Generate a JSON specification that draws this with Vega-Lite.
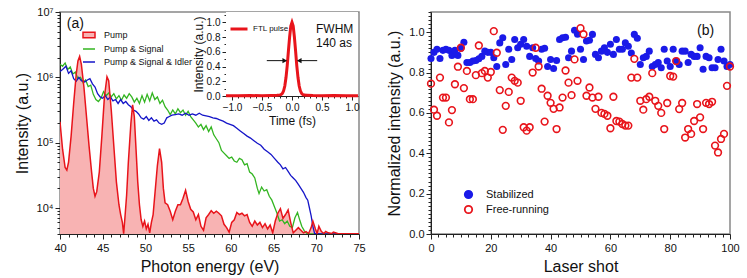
{
  "$schema": "https://vega.github.io/schema/vega-lite/v6.json",
  "background": "white",
  "padding": {"left": 13, "top": 5, "right": 8, "bottom": 3},
  "config": {
    "font": "Liberation Sans",
    "view": {"stroke": "#888888", "strokeWidth": 1.5},
    "axis": {"labelFont": "Liberation Sans", "titleFont": "Liberation Sans", "labelFontSize": 11, "titleFontSize": 16, "titleFontWeight": "normal", "labelColor": "#111111", "titleColor": "#111111", "domainColor": "#222222", "tickColor": "#222222", "grid": false, "labelFlush": false, "labelOverlap": false, "labelPadding": 2, "tickCount": 1000},
    "legend": {"labelFont": "Liberation Sans", "labelColor": "#111111"}
  },
  "datasets": {
    "pump": [
      {"E":40,"I":208900},{"E":40.3,"I":79430},{"E":40.6,"I":41690},{"E":40.8,"I":38020},{"E":41,"I":50120},{"E":41.3,"I":125900},{"E":41.6,"I":398100},{"E":41.9,"I":1122000},{"E":42.1,"I":1778000},{"E":42.3,"I":2089000},{"E":42.5,"I":1585000},{"E":42.8,"I":707900},{"E":43.1,"I":251200},{"E":43.4,"I":89130},{"E":43.7,"I":35480},{"E":43.9,"I":19950},{"E":44.1,"I":15140},{"E":44.3,"I":17780},{"E":44.6,"I":35480},{"E":44.9,"I":125900},{"E":45.2,"I":501200},{"E":45.5,"I":1023000},{"E":45.7,"I":891300},{"E":46,"I":316200},{"E":46.3,"I":89130},{"E":46.6,"I":25120},{"E":46.9,"I":11220},{"E":47.1,"I":7943},{"E":47.3,"I":6026},{"E":47.45,"I":4030},{"E":47.6,"I":7079},{"E":47.8,"I":15850},{"E":48,"I":50120},{"E":48.3,"I":199500},{"E":48.5,"I":380200},{"E":48.7,"I":251200},{"E":48.9,"I":79430},{"E":49.1,"I":25120},{"E":49.3,"I":11220},{"E":49.5,"I":6607},{"E":49.7,"I":5248},{"E":49.9,"I":6310},{"E":50.1,"I":4786},{"E":50.3,"I":5623},{"E":50.5,"I":4169},{"E":50.7,"I":6026},{"E":50.9,"I":7943},{"E":51.1,"I":15850},{"E":51.4,"I":44670},{"E":51.65,"I":81280},{"E":51.9,"I":50120},{"E":52.1,"I":19950},{"E":52.3,"I":12020},{"E":52.6,"I":11220},{"E":52.9,"I":8913},{"E":53.2,"I":6607},{"E":53.5,"I":8913},{"E":53.8,"I":11220},{"E":54.1,"I":11220},{"E":54.4,"I":14130},{"E":54.7,"I":18620},{"E":55,"I":12590},{"E":55.3,"I":9550},{"E":55.6,"I":8710},{"E":55.9,"I":6607},{"E":56.2,"I":7943},{"E":56.5,"I":5248},{"E":56.8,"I":4571},{"E":57.1,"I":7079},{"E":57.4,"I":7943},{"E":57.7,"I":9120},{"E":58,"I":8318},{"E":58.3,"I":8913},{"E":58.6,"I":8318},{"E":58.9,"I":7586},{"E":59.2,"I":5623},{"E":59.5,"I":5012},{"E":59.8,"I":4266},{"E":60.1,"I":6026},{"E":60.4,"I":6607},{"E":60.7,"I":8511},{"E":61,"I":7943},{"E":61.3,"I":8318},{"E":61.6,"I":7586},{"E":61.9,"I":7943},{"E":62.2,"I":6026},{"E":62.5,"I":5248},{"E":62.8,"I":6310},{"E":63.1,"I":5495},{"E":63.4,"I":6026},{"E":63.7,"I":5012},{"E":64,"I":5754},{"E":64.3,"I":4786},{"E":64.6,"I":5495},{"E":64.9,"I":4169},{"E":65.2,"I":6310},{"E":65.5,"I":8318},{"E":65.8,"I":9772},{"E":66.1,"I":6918},{"E":66.4,"I":7943},{"E":66.7,"I":9333},{"E":67,"I":6026},{"E":67.3,"I":4169},{"E":67.6,"I":4571},{"E":67.9,"I":5012},{"E":68.2,"I":4571},{"E":68.5,"I":4169},{"E":68.8,"I":4365},{"E":69.1,"I":4074},{"E":69.4,"I":5012},{"E":69.6,"I":6310},{"E":69.9,"I":4786},{"E":70.1,"I":4074},{"E":70.3,"I":5248},{"E":70.6,"I":4365},{"E":70.9,"I":4074},{"E":71.1,"I":4365},{"E":71.4,"I":4169},{"E":71.8,"I":4074},{"E":72,"I":4266},{"E":72.5,"I":4074},{"E":73,"I":4030},{"E":74,"I":4030},{"E":75,"I":4030}
    ],
    "ps": [
      {"E":40,"I":1585000},{"E":40.3,"I":1479000},{"E":40.6,"I":1660000},{"E":40.9,"I":1318000},{"E":41.2,"I":1445000},{"E":41.5,"I":1122000},{"E":41.8,"I":1202000},{"E":42.1,"I":955000},{"E":42.4,"I":1000000},{"E":42.7,"I":831800},{"E":43,"I":912000},{"E":43.3,"I":724400},{"E":43.6,"I":758600},{"E":43.9,"I":549500},{"E":44.2,"I":457100},{"E":44.5,"I":426600},{"E":44.8,"I":478600},{"E":45.1,"I":602600},{"E":45.4,"I":524800},{"E":45.7,"I":575400},{"E":46,"I":501200},{"E":46.3,"I":562300},{"E":46.6,"I":467700},{"E":46.9,"I":524800},{"E":47.2,"I":446700},{"E":47.5,"I":537000},{"E":47.8,"I":478600},{"E":48.1,"I":562300},{"E":48.4,"I":501200},{"E":48.7,"I":416900},{"E":49,"I":478600},{"E":49.3,"I":398100},{"E":49.6,"I":524800},{"E":49.9,"I":416900},{"E":50.2,"I":549500},{"E":50.5,"I":436500},{"E":50.8,"I":575400},{"E":51.1,"I":457100},{"E":51.4,"I":501200},{"E":51.7,"I":398100},{"E":52,"I":446700},{"E":52.3,"I":354800},{"E":52.6,"I":316200},{"E":52.9,"I":269200},{"E":53.2,"I":316200},{"E":53.5,"I":275400},{"E":53.8,"I":331100},{"E":54.1,"I":288400},{"E":54.4,"I":316200},{"E":54.7,"I":263000},{"E":55,"I":302000},{"E":55.3,"I":251200},{"E":55.6,"I":223900},{"E":55.9,"I":199500},{"E":56.2,"I":173800},{"E":56.5,"I":190500},{"E":56.8,"I":158500},{"E":57.1,"I":182000},{"E":57.4,"I":147900},{"E":57.7,"I":173800},{"E":58,"I":131800},{"E":58.3,"I":114800},{"E":58.6,"I":100000},{"E":58.9,"I":75860},{"E":59.2,"I":69180},{"E":59.5,"I":63100},{"E":59.8,"I":57540},{"E":60.1,"I":60260},{"E":60.4,"I":52480},{"E":60.7,"I":50120},{"E":61,"I":57540},{"E":61.3,"I":54950},{"E":61.6,"I":45710},{"E":61.9,"I":47860},{"E":62.2,"I":35480},{"E":62.5,"I":33110},{"E":62.8,"I":28840},{"E":63.1,"I":19950},{"E":63.3,"I":16600},{"E":63.6,"I":20890},{"E":63.9,"I":18200},{"E":64.2,"I":19050},{"E":64.5,"I":15140},{"E":64.8,"I":13180},{"E":65.1,"I":10470},{"E":65.4,"I":8318},{"E":65.7,"I":6310},{"E":66,"I":6607},{"E":66.3,"I":5754},{"E":66.6,"I":6310},{"E":66.9,"I":5248},{"E":67.2,"I":5012},{"E":67.5,"I":7079},{"E":67.8,"I":8511},{"E":68.1,"I":6310},{"E":68.3,"I":5248},{"E":68.6,"I":4467},{"E":68.9,"I":4074},{"E":69.2,"I":4030},{"E":75,"I":4030}
    ],
    "psi": [
      {"E":40,"I":1230000},{"E":40.3,"I":1318000},{"E":40.7,"I":1479000},{"E":41,"I":1148000},{"E":41.3,"I":1259000},{"E":41.6,"I":955000},{"E":41.9,"I":871000},{"E":42.2,"I":1000000},{"E":42.5,"I":891300},{"E":42.9,"I":851100},{"E":43.2,"I":912000},{"E":43.5,"I":955000},{"E":43.8,"I":794300},{"E":44.1,"I":707900},{"E":44.4,"I":562300},{"E":44.7,"I":501200},{"E":45,"I":478600},{"E":45.3,"I":524800},{"E":45.6,"I":457100},{"E":45.9,"I":501200},{"E":46.2,"I":436500},{"E":46.5,"I":457100},{"E":46.8,"I":398100},{"E":47.1,"I":457100},{"E":47.4,"I":398100},{"E":47.7,"I":426600},{"E":48,"I":380200},{"E":48.3,"I":354800},{"E":48.6,"I":316200},{"E":48.9,"I":302000},{"E":49.2,"I":275400},{"E":49.5,"I":239900},{"E":49.8,"I":229100},{"E":50.1,"I":251200},{"E":50.4,"I":218800},{"E":50.7,"I":239900},{"E":51,"I":213800},{"E":51.3,"I":223900},{"E":51.6,"I":199500},{"E":51.9,"I":190500},{"E":52.2,"I":199500},{"E":52.5,"I":239900},{"E":52.8,"I":251200},{"E":53.1,"I":263000},{"E":53.5,"I":269200},{"E":53.9,"I":275400},{"E":54.3,"I":263000},{"E":54.7,"I":281800},{"E":55.1,"I":263000},{"E":55.5,"I":275400},{"E":55.9,"I":263000},{"E":56.3,"I":281800},{"E":56.7,"I":263000},{"E":57.1,"I":257000},{"E":57.5,"I":251200},{"E":57.9,"I":239900},{"E":58.3,"I":234400},{"E":58.7,"I":223900},{"E":59.1,"I":213800},{"E":59.5,"I":199500},{"E":59.9,"I":190500},{"E":60.3,"I":182000},{"E":60.7,"I":166000},{"E":61.1,"I":151400},{"E":61.5,"I":138000},{"E":61.9,"I":125900},{"E":62.3,"I":117500},{"E":62.7,"I":107200},{"E":63.1,"I":97720},{"E":63.5,"I":91200},{"E":63.9,"I":79430},{"E":64.3,"I":72440},{"E":64.7,"I":66070},{"E":65.1,"I":57540},{"E":65.5,"I":50120},{"E":65.8,"I":45710},{"E":66.1,"I":39810},{"E":66.4,"I":41690},{"E":66.7,"I":36310},{"E":67,"I":31620},{"E":67.3,"I":28840},{"E":67.6,"I":26300},{"E":67.9,"I":22910},{"E":68.2,"I":19950},{"E":68.5,"I":17380},{"E":68.8,"I":14450},{"E":69,"I":13180},{"E":69.2,"I":10000},{"E":69.4,"I":7586},{"E":69.6,"I":5248},{"E":69.8,"I":4074},{"E":70.5,"I":4030},{"E":75,"I":4030}
    ],
    "pulse": [
      {"t":-1.1,"v":0.005},{"t":-0.9,"v":0.003},{"t":-0.7,"v":0.006},{"t":-0.5,"v":0.004},{"t":-0.35,"v":0.008},{"t":-0.25,"v":0.01},{"t":-0.2,"v":0.015},{"t":-0.18,"v":0.02},{"t":-0.16,"v":0.035},{"t":-0.14,"v":0.07},{"t":-0.12,"v":0.135},{"t":-0.1,"v":0.25},{"t":-0.08,"v":0.41},{"t":-0.06,"v":0.61},{"t":-0.04,"v":0.8},{"t":-0.02,"v":0.95},{"t":0,"v":1.0},{"t":0.02,"v":0.95},{"t":0.04,"v":0.8},{"t":0.06,"v":0.61},{"t":0.08,"v":0.41},{"t":0.1,"v":0.25},{"t":0.12,"v":0.135},{"t":0.14,"v":0.07},{"t":0.16,"v":0.035},{"t":0.18,"v":0.02},{"t":0.2,"v":0.012},{"t":0.25,"v":0.01},{"t":0.35,"v":0.006},{"t":0.5,"v":0.004},{"t":0.7,"v":0.006},{"t":0.9,"v":0.003},{"t":1.1,"v":0.005}
    ],
    "stab": [
      {"shot":0,"v":0.87},{"shot":1,"v":0.9},{"shot":2,"v":0.915},{"shot":3,"v":0.87},{"shot":4,"v":0.91},{"shot":5,"v":0.915},{"shot":6,"v":0.91},{"shot":7,"v":0.885},{"shot":8,"v":0.91},{"shot":9,"v":0.885},{"shot":10,"v":0.92},{"shot":11,"v":0.95},{"shot":12,"v":0.85},{"shot":13,"v":0.85},{"shot":14,"v":0.857},{"shot":15,"v":0.86},{"shot":16,"v":0.868},{"shot":17,"v":0.88},{"shot":18,"v":0.906},{"shot":19,"v":0.9},{"shot":20,"v":0.9},{"shot":21,"v":0.873},{"shot":22,"v":0.83},{"shot":23,"v":0.947},{"shot":24,"v":0.972},{"shot":25,"v":0.84},{"shot":26,"v":0.915},{"shot":27,"v":0.865},{"shot":28,"v":0.964},{"shot":29,"v":0.923},{"shot":30,"v":0.94},{"shot":31,"v":0.964},{"shot":32,"v":0.93},{"shot":33,"v":0.88},{"shot":34,"v":0.923},{"shot":35,"v":0.87},{"shot":36,"v":0.857},{"shot":37,"v":0.915},{"shot":38,"v":0.92},{"shot":39,"v":0.83},{"shot":40,"v":0.865},{"shot":41,"v":0.82},{"shot":42,"v":0.86},{"shot":43,"v":0.964},{"shot":44,"v":0.972},{"shot":45,"v":0.975},{"shot":46,"v":0.873},{"shot":47,"v":0.906},{"shot":48,"v":1.01},{"shot":49,"v":0.99},{"shot":50,"v":0.915},{"shot":51,"v":0.865},{"shot":52,"v":0.956},{"shot":53,"v":0.96},{"shot":54,"v":0.989},{"shot":55,"v":0.89},{"shot":56,"v":0.873},{"shot":57,"v":0.906},{"shot":58,"v":0.923},{"shot":59,"v":0.9},{"shot":60,"v":0.94},{"shot":61,"v":0.89},{"shot":62,"v":0.964},{"shot":63,"v":0.915},{"shot":64,"v":0.915},{"shot":65,"v":0.947},{"shot":66,"v":0.93},{"shot":67,"v":0.897},{"shot":68,"v":0.989},{"shot":69,"v":0.97},{"shot":70,"v":0.84},{"shot":71,"v":0.873},{"shot":72,"v":0.88},{"shot":73,"v":0.906},{"shot":74,"v":0.83},{"shot":75,"v":0.84},{"shot":76,"v":0.85},{"shot":77,"v":0.824},{"shot":78,"v":0.915},{"shot":79,"v":0.857},{"shot":80,"v":0.83},{"shot":81,"v":0.915},{"shot":82,"v":0.857},{"shot":83,"v":0.84},{"shot":84,"v":0.906},{"shot":85,"v":0.906},{"shot":86,"v":0.85},{"shot":87,"v":0.89},{"shot":88,"v":0.88},{"shot":89,"v":0.88},{"shot":90,"v":0.923},{"shot":91,"v":0.816},{"shot":92,"v":0.88},{"shot":93,"v":0.873},{"shot":94,"v":0.824},{"shot":95,"v":0.824},{"shot":96,"v":0.865},{"shot":97,"v":0.915},{"shot":98,"v":0.857},{"shot":99,"v":0.83},{"shot":100,"v":0.84}
    ],
    "free": [
      {"shot":0,"v":0.745},{"shot":1,"v":0.616},{"shot":2,"v":0.586},{"shot":3,"v":0.775},{"shot":4,"v":0.676},{"shot":5,"v":0.676},{"shot":6,"v":0.553},{"shot":7,"v":0.614},{"shot":8,"v":0.742},{"shot":9,"v":0.829},{"shot":10,"v":0.923},{"shot":11,"v":0.723},{"shot":12,"v":0.808},{"shot":13,"v":0.668},{"shot":14,"v":0.668},{"shot":15,"v":0.787},{"shot":16,"v":0.934},{"shot":17,"v":0.797},{"shot":18,"v":0.808},{"shot":19,"v":0.775},{"shot":20,"v":0.803},{"shot":21,"v":1.005},{"shot":22,"v":0.898},{"shot":23,"v":0.713},{"shot":24,"v":0.516},{"shot":25,"v":0.635},{"shot":26,"v":0.704},{"shot":27,"v":0.775},{"shot":28,"v":0.759},{"shot":29,"v":0.75},{"shot":30,"v":0.66},{"shot":31,"v":0.529},{"shot":32,"v":0.512},{"shot":33,"v":0.529},{"shot":34,"v":0.8},{"shot":35,"v":0.923},{"shot":36,"v":0.83},{"shot":37,"v":0.72},{"shot":38,"v":0.557},{"shot":39,"v":0.685},{"shot":40,"v":0.65},{"shot":41,"v":0.62},{"shot":42,"v":0.52},{"shot":43,"v":0.627},{"shot":44,"v":0.676},{"shot":45,"v":0.81},{"shot":46,"v":0.75},{"shot":47,"v":0.688},{"shot":48,"v":0.865},{"shot":49,"v":0.759},{"shot":50,"v":1.02},{"shot":51,"v":0.99},{"shot":52,"v":0.685},{"shot":53,"v":0.726},{"shot":54,"v":0.676},{"shot":55,"v":0.62},{"shot":56,"v":0.68},{"shot":57,"v":0.6},{"shot":58,"v":0.595},{"shot":59,"v":0.586},{"shot":60,"v":0.524},{"shot":61,"v":0.68},{"shot":62,"v":0.56},{"shot":63,"v":0.557},{"shot":64,"v":0.545},{"shot":65,"v":0.537},{"shot":66,"v":0.537},{"shot":67,"v":0.775},{"shot":68,"v":0.868},{"shot":69,"v":0.775},{"shot":70,"v":0.66},{"shot":71,"v":0.616},{"shot":72,"v":0.668},{"shot":73,"v":0.68},{"shot":74,"v":0.797},{"shot":75,"v":0.66},{"shot":76,"v":0.635},{"shot":77,"v":0.6},{"shot":78,"v":0.52},{"shot":79,"v":0.649},{"shot":80,"v":0.783},{"shot":81,"v":0.78},{"shot":82,"v":0.857},{"shot":83,"v":0.619},{"shot":84,"v":0.649},{"shot":85,"v":0.478},{"shot":86,"v":0.52},{"shot":87,"v":0.496},{"shot":88,"v":0.56},{"shot":89,"v":0.644},{"shot":90,"v":0.578},{"shot":91,"v":0.52},{"shot":92,"v":0.65},{"shot":93,"v":0.644},{"shot":94,"v":0.655},{"shot":95,"v":0.438},{"shot":96,"v":0.404},{"shot":97,"v":0.471},{"shot":98,"v":0.496},{"shot":99,"v":0.734},{"shot":100,"v":0.83}
    ]
  },
  "spacing": 19,
  "hconcat": [
    {
      "width": 299,
      "height": 222,
      "layer": [
        {
          "layer": [
            {
              "data": {"name": "pump"},
              "mark": {"type": "area", "color": "#f8b3b3", "opacity": 1, "clip": true},
              "encoding": {
                "x": {"field": "E", "type": "quantitative", "scale": {"domain": [40, 75], "nice": false, "zero": false},
                  "axis": {"title": "Photon energy (eV)", "titlePadding": 5, "labelPadding": 3, "labelOverlap": false, "tickCount": 1000,
                    "values": [40,41,42,43,44,45,46,47,48,49,50,51,52,53,54,55,56,57,58,59,60,61,62,63,64,65,66,67,68,69,70,71,72,73,74,75],
                    "labelExpr": "datum.value % 5 === 0 ? format(datum.value, 'd') : ''",
                    "tickSize": {"condition": {"test": "datum.value % 5 === 0", "value": 5}, "value": 3}}},
                "y": {"field": "I", "type": "quantitative", "scale": {"type": "log", "domain": [4000, 10000000], "nice": false},
                  "axis": {"title": "Intensity (a.u.)", "titlePadding": 6, "labelOverlap": false, "tickCount": 1000,
                    "values": [4000,5000,6000,7000,8000,9000,10000,20000,30000,40000,50000,60000,70000,80000,90000,100000,200000,300000,400000,500000,600000,700000,800000,900000,1000000,2000000,3000000,4000000,5000000,6000000,7000000,8000000,9000000,10000000],
                    "labelExpr": "abs(log(datum.value)/LN10 - round(log(datum.value)/LN10)) < 0.001 ? '10' + ['⁰','¹','²','³','⁴','⁵','⁶','⁷'][round(log(datum.value)/LN10)] : ''",
                    "tickSize": {"condition": {"test": "abs(log(datum.value)/LN10 - round(log(datum.value)/LN10)) < 0.001", "value": 5}, "value": 3}}},
                "y2": {"datum": 4000}
              }
            },
            {
              "data": {"name": "ps"},
              "mark": {"type": "line", "strokeWidth": 1.3, "clip": true},
              "encoding": {
                "x": {"field": "E", "type": "quantitative"},
                "y": {"field": "I", "type": "quantitative"},
                "color": {"datum": "Pump & Signal",
                  "scale": {"domain": ["Pump", "Pump & Signal", "Pump & Signal & Idler"], "range": ["#e8141b", "#33b521", "#1515c8"]},
                  "legend": {"orient": "none", "legendX": 22, "legendY": 16, "title": null, "labelFontSize": 9, "symbolSize": 144, "symbolStrokeWidth": 1.5, "rowPadding": 1, "labelOffset": 8, "symbolType": "stroke",
                    "encoding": {"symbols": {
                      "shape": {"condition": {"test": "datum.value === 'Pump'", "value": "M-1,-0.45L1,-0.45L1,0.45L-1,0.45Z"}, "value": "stroke"},
                      "fill": {"condition": {"test": "datum.value === 'Pump'", "value": "#f8b3b3"}, "value": "transparent"}}}}}
              }
            },
            {
              "data": {"name": "psi"},
              "mark": {"type": "line", "strokeWidth": 1.3, "clip": true},
              "encoding": {
                "x": {"field": "E", "type": "quantitative"},
                "y": {"field": "I", "type": "quantitative"},
                "color": {"datum": "Pump & Signal & Idler"}
              }
            },
            {
              "data": {"name": "pump"},
              "mark": {"type": "line", "strokeWidth": 1.5, "clip": true},
              "encoding": {
                "x": {"field": "E", "type": "quantitative"},
                "y": {"field": "I", "type": "quantitative"},
                "color": {"datum": "Pump"}
              }
            },
            {
              "data": {"values": [{}]},
              "mark": {"type": "text", "text": "(a)", "fontSize": 14, "align": "left", "baseline": "middle", "color": "#111111"},
              "encoding": {"x": {"datum": 40.8}, "y": {"datum": 6550000}}
            }
          ]
        },
        {
          "layer": [
            {
              "data": {"values": [{}]},
              "mark": {"type": "rect", "color": "white"},
              "encoding": {
                "x": {"datum": -1.1, "type": "quantitative", "scale": {"domain": [-1.1, 1.1], "range": [166, 298], "nice": false, "zero": false},
                  "axis": {"orient": "bottom", "offset": -138, "title": "Time (fs)", "titleFontSize": 12, "titlePadding": 3, "labelFontSize": 10, "labelPadding": 2, "labelOverlap": false, "tickCount": 1000,
                    "values": [-1,-0.9,-0.8,-0.7,-0.6,-0.5,-0.4,-0.3,-0.2,-0.1,0,0.1,0.2,0.3,0.4,0.5,0.6,0.7,0.8,0.9,1],
                    "labelExpr": "abs(datum.value*2 - round(datum.value*2)) < 0.001 ? format(datum.value, '.1f') : ''",
                    "tickSize": {"condition": {"test": "abs(datum.value*2 - round(datum.value*2)) < 0.001", "value": 4}, "value": 2}}},
                "x2": {"datum": 1.1},
                "y": {"datum": 0, "type": "quantitative", "scale": {"domain": [0, 1.14], "range": [84, 0], "nice": false},
                  "axis": {"orient": "left", "offset": -166, "title": "Intensity (a.u.)", "titleFontSize": 12, "titlePadding": 1, "labelFontSize": 10, "labelPadding": 2, "labelOverlap": false, "tickCount": 1000,
                    "values": [0,0.1,0.2,0.3,0.4,0.5,0.6,0.7,0.8,0.9,1,1.1],
                    "labelExpr": "abs(datum.value*5 - round(datum.value*5)) < 0.001 ? format(datum.value, '.1f') : ''",
                    "tickSize": {"condition": {"test": "abs(datum.value*5 - round(datum.value*5)) < 0.001", "value": 4}, "value": 2}}},
                "y2": {"datum": 1.14}
              }
            },
            {
              "data": {"name": "pulse"},
              "mark": {"type": "line", "strokeWidth": 3},
              "encoding": {
                "x": {"field": "t", "type": "quantitative"},
                "y": {"field": "v", "type": "quantitative"},
                "color": {"datum": "FTL pulse", "scale": {"range": ["#e8141b"]},
                  "legend": {"orient": "none", "legendX": 169, "legendY": 7, "title": null, "labelFontSize": 8, "symbolType": "stroke", "symbolStrokeWidth": 3, "symbolSize": 289, "labelOffset": 4}}
              }
            },
            {
              "data": {"values": [{}]},
              "mark": {"type": "rule", "color": "#111111", "strokeWidth": 1},
              "encoding": {"x": {"datum": -0.42}, "x2": {"datum": -0.13}, "y": {"datum": 0.48}}
            },
            {
              "data": {"values": [{}]},
              "mark": {"type": "rule", "color": "#111111", "strokeWidth": 1},
              "encoding": {"x": {"datum": 0.13}, "x2": {"datum": 0.42}, "y": {"datum": 0.48}}
            },
            {
              "data": {"values": [{}]},
              "mark": {"type": "point", "shape": "triangle-right", "filled": true, "color": "#111111", "size": 30, "opacity": 1},
              "encoding": {"x": {"datum": -0.12}, "y": {"datum": 0.48}}
            },
            {
              "data": {"values": [{}]},
              "mark": {"type": "point", "shape": "triangle-left", "filled": true, "color": "#111111", "size": 30, "opacity": 1},
              "encoding": {"x": {"datum": 0.12}, "y": {"datum": 0.48}}
            },
            {
              "data": {"values": [{}]},
              "mark": {"type": "text", "text": "FWHM", "fontSize": 12, "align": "left", "baseline": "middle", "color": "#111111"},
              "encoding": {"x": {"datum": 0.4}, "y": {"datum": 0.905}}
            },
            {
              "data": {"values": [{}]},
              "mark": {"type": "text", "text": "140 as", "fontSize": 12, "align": "left", "baseline": "middle", "color": "#111111"},
              "encoding": {"x": {"datum": 0.4}, "y": {"datum": 0.716}}
            }
          ]
        }
      ],
      "resolve": {"scale": {"x": "independent", "y": "independent", "color": "independent"}}
    },
    {
      "width": 299,
      "height": 222,
      "layer": [
        {
          "data": {"name": "stab"},
          "mark": {"type": "point", "shape": "circle", "size": 50, "filled": true, "opacity": 1},
          "encoding": {
            "x": {"field": "shot", "type": "quantitative", "scale": {"domain": [0, 100], "nice": false},
              "axis": {"title": "Laser shot", "titlePadding": 5, "labelPadding": 3, "labelOverlap": false, "tickCount": 1000,
                "values": [0,2.5,5,7.5,10,12.5,15,17.5,20,22.5,25,27.5,30,32.5,35,37.5,40,42.5,45,47.5,50,52.5,55,57.5,60,62.5,65,67.5,70,72.5,75,77.5,80,82.5,85,87.5,90,92.5,95,97.5,100],
                "labelExpr": "datum.value % 20 === 0 ? format(datum.value, 'd') : ''",
                "tickSize": {"condition": {"test": "datum.value % 20 === 0", "value": 5}, "value": 3}}},
            "y": {"field": "v", "type": "quantitative", "scale": {"domain": [0, 1.1], "nice": false},
              "axis": {"title": "Normalized intensity (a.u.)", "titlePadding": 6, "labelOverlap": false, "tickCount": 1000,
                "values": [0,0.02,0.04,0.06,0.08,0.1,0.12,0.14,0.16,0.18,0.2,0.22,0.24,0.26,0.28,0.3,0.32,0.34,0.36,0.38,0.4,0.42,0.44,0.46,0.48,0.5,0.52,0.54,0.56,0.58,0.6,0.62,0.64,0.66,0.68,0.7,0.72,0.74,0.76,0.78,0.8,0.82,0.84,0.86,0.88,0.9,0.92,0.94,0.96,0.98,1,1.02,1.04,1.06,1.08,1.1],
                "labelExpr": "abs(datum.value*5 - round(datum.value*5)) < 0.001 ? format(datum.value, '.1f') : ''",
                "tickSize": {"condition": {"test": "abs(datum.value*5 - round(datum.value*5)) < 0.001", "value": 5}, "value": 3}}},
            "color": {"datum": "Stabilized",
              "scale": {"domain": ["Stabilized", "Free-running"], "range": ["#1a1ae8", "#e8141b"]},
              "legend": {"orient": "none", "legendX": 403, "legendY": 177, "title": null, "labelFontSize": 11, "symbolSize": 55, "symbolStrokeWidth": 1.8, "rowPadding": 0, "labelOffset": 12, "symbolType": "circle",
                "encoding": {"symbols": {
                  "fill": {"condition": {"test": "datum.value === 'Stabilized'", "value": "#1a1ae8"}, "value": "transparent"},
                  "fillOpacity": {"condition": {"test": "datum.value === 'Stabilized'", "value": 1}, "value": 0},
                  "stroke": {"condition": {"test": "datum.value === 'Stabilized'", "value": "#1a1ae8"}, "value": "#e8141b"}}}}}
          }
        },
        {
          "data": {"name": "free"},
          "mark": {"type": "point", "shape": "circle", "size": 45, "filled": false, "strokeWidth": 1.6, "opacity": 1},
          "encoding": {
            "x": {"field": "shot", "type": "quantitative"},
            "y": {"field": "v", "type": "quantitative"},
            "color": {"datum": "Free-running"}
          }
        },
        {
          "data": {"values": [{}]},
          "mark": {"type": "text", "text": "(b)", "fontSize": 14, "align": "left", "baseline": "middle", "color": "#111111"},
          "encoding": {"x": {"datum": 89}, "y": {"datum": 1.005}}
        }
      ]
    }
  ]
}
